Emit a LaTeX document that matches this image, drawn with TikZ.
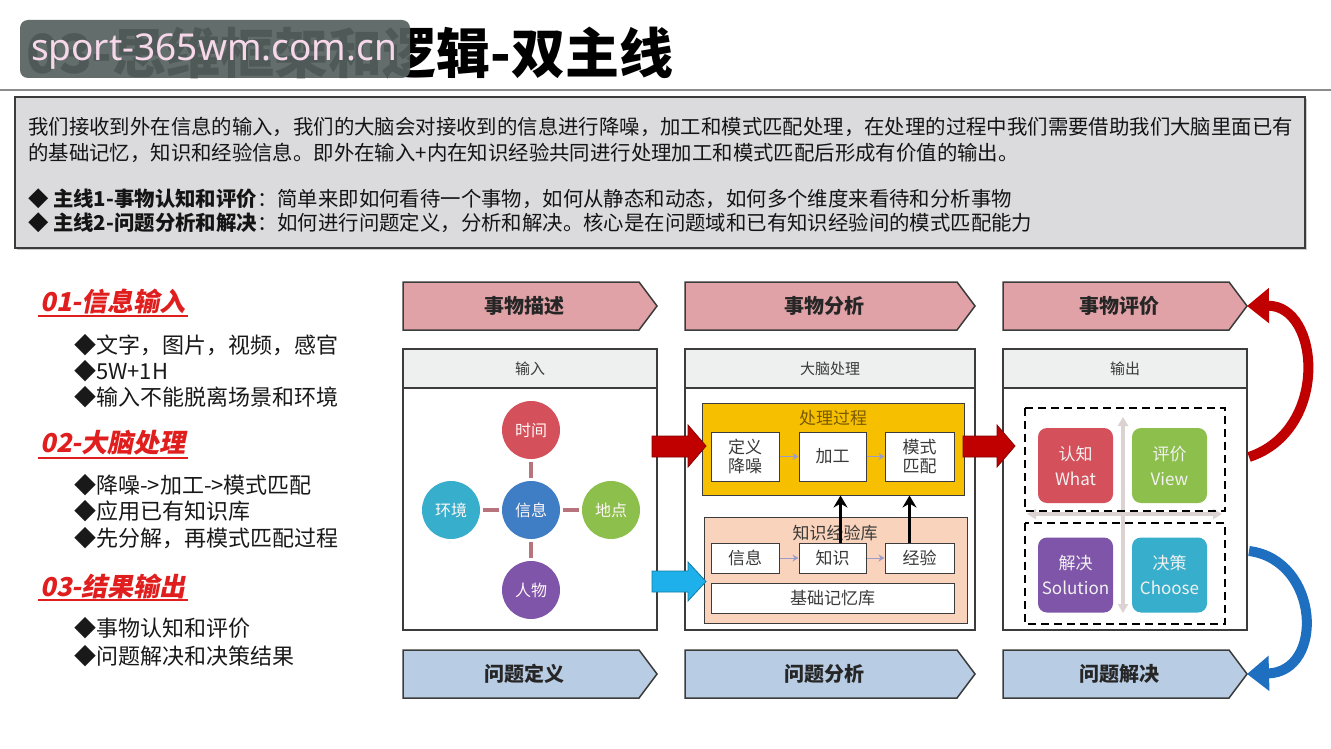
\documentclass[tikz,border=0pt]{standalone}
\usepackage{fontspec}
\setmainfont{Noto Sans CJK SC}
\newfontfamily\headfont{Noto Sans CJK SC}[FakeSlant=0.2]
\newfontfamily\wmfont{Noto Sans}
\usetikzlibrary{arrows.meta,shadows}
\definecolor{pinkc}{HTML}{E0A2A6}
\definecolor{bluec}{HTML}{B8CCE4}
\definecolor{edge}{HTML}{3C3C3C}
\definecolor{hdr}{HTML}{EEF0F0}
\definecolor{boxg}{HTML}{DBDBDD}
\definecolor{redh}{HTML}{E01E1E}
\definecolor{cRed}{HTML}{D4505A}
\definecolor{cBlue}{HTML}{3F7DC4}
\definecolor{cTeal}{HTML}{37AECB}
\definecolor{cGreen}{HTML}{8DBF4C}
\definecolor{cPurple}{HTML}{7E55A8}
\definecolor{linkc}{HTML}{B8747C}
\definecolor{gold}{HTML}{F6C000}
\definecolor{goldtx}{HTML}{7A5A00}
\definecolor{peach}{HTML}{F9D3BC}
\definecolor{darkred}{HTML}{C00000}
\definecolor{skyb}{HTML}{1EB0EA}
\definecolor{curvb}{HTML}{1F6FC0}
\definecolor{txt}{HTML}{3A3A3A}
\definecolor{wmbg}{HTML}{56615F}
\definecolor{wmtx}{HTML}{F6D8EA}
\definecolor{crossc}{HTML}{DCD2D2}
\newcommand{\fsz}[1]{\fontsize{#1}{#1}\selectfont}
\newcommand{\mychev}[7]{%
  \draw[draw=edge, line width=1.5pt, fill=#5] (#1,#3) -- (#2-18,#3) -- (#2,{(#3+#4)/2}) -- (#2-18,#4) -- (#1,#4) -- cycle;
  \coordinate (#6tip) at (#2,{(#3+#4)/2});
  \node[chevtext] (#6) at ({(#1+#2-12)/2},{(#3+#4)/2}) {#7};}
\begin{document}
\begin{tikzpicture}[x=1pt,y=-1pt,
  chevtext/.style={font=\fsz{20}\bfseries, text=black!85, inner sep=0pt},
  hdrtext/.style={font=\fsz{15}, text=txt, inner sep=0pt},
  panel/.style={draw=edge, line width=1.5pt, fill=white},
  hdrstrip/.style={draw=edge, line width=1.5pt, fill=hdr},
  circ/.style={circle, minimum size=58pt, inner sep=0pt, font=\fsz{16}, text=white!88!pink},
  linkline/.style={draw=linkc, line width=3.5pt, shorten <=3pt, shorten >=3pt},
  ibox/.style={draw=edge, line width=1pt, fill=white, font=\fsz{17}, text=txt, inner sep=0pt, align=center},
  garrow/.style={draw=gray!70!blue!60, line width=1pt, -{Stealth[length=6pt,width=7pt]}},
  blkarrow/.style={draw=black, line width=3pt, -{Stealth[length=12pt,width=14pt]}},
  sq/.style={rounded corners=9pt, minimum size=75pt, inner sep=0pt, align=center, font=\fsz{17}, text=white!90!gray},
  dashbox/.style={draw=black, line width=2.5pt, dash pattern=on 8pt off 5pt},
  crossarrow/.style={draw=crossc, line width=3.5pt, {Triangle[length=9pt,width=10pt]}-{Triangle[length=9pt,width=10pt]}},
  lefthead/.style={font=\headfont\fsz{26}\bfseries, text=redh, anchor=west, inner sep=0pt},
  leftitem/.style={font=\fsz{22}, text=black!90, anchor=west, inner sep=0pt},
  bodyline/.style={font=\fsz{20.4}, text=black!92, anchor=west, inner sep=0pt},
]
\useasboundingbox (0,0) rectangle (1331,749);
\fill[white] (0,0) rectangle (1331,749);

% title
\node[font=\fsz{54}\bfseries, anchor=west, inner sep=0pt] (title) at (26,53) {03-思维框架和逻辑-双主线};
\draw[gray!90, line width=2.5pt] (0,90) -- (1331,90);
\fill[wmbg, opacity=0.92, rounded corners=8pt] (20,20) rectangle (410,78);
\node[font=\wmfont\fsz{37}, text=wmtx, inner sep=0pt] (wm) at (214,52) {sport-365wm.com.cn};

% intro box
\draw[draw=edge, line width=1.5pt, fill=boxg, drop shadow={shadow xshift=2pt, shadow yshift=-2pt, opacity=0.4}] (15,97) rectangle (1305,248);
\node[bodyline] (l1) at (28,127) {我们接收到外在信息的输入，我们的大脑会对接收到的信息进行降噪，加工和模式匹配处理，在处理的过程中我们需要借助我们大脑里面已有};
\node[bodyline] (l2) at (28,153) {的基础记忆，知识和经验信息。即外在输入+内在知识经验共同进行处理加工和模式匹配后形成有价值的输出。};
\node[bodyline] (l3) at (28,199) {◆ {\bfseries 主线1-事物认知和评价}：简单来即如何看待一个事物，如何从静态和动态，如何多个维度来看待和分析事物};
\node[bodyline] (l4) at (28,223) {◆ {\bfseries 主线2-问题分析和解决}：如何进行问题定义，分析和解决。核心是在问题域和已有知识经验间的模式匹配能力};

% left column
\node[lefthead] (h1) at (40,302) {01-信息输入};
\draw[redh, line width=1.5pt] (38,316) -- (188,316);
\node[leftitem] (i11) at (74,345) {◆文字，图片，视频，感官};
\node[leftitem] (i12) at (74,371) {◆5W+1H};
\node[leftitem] (i13) at (74,397) {◆输入不能脱离场景和环境};
\node[lefthead] (h2) at (40,443) {02-大脑处理};
\draw[redh, line width=1.5pt] (38,458) -- (188,458);
\node[leftitem] (i21) at (74,485) {◆降噪->加工->模式匹配};
\node[leftitem] (i22) at (74,511) {◆应用已有知识库};
\node[leftitem] (i23) at (74,538) {◆先分解，再模式匹配过程};
\node[lefthead] (h3) at (40,586) {03-结果输出};
\draw[redh, line width=1.5pt] (38,600) -- (188,600);
\node[leftitem] (i31) at (74,628) {◆事物认知和评价};
\node[leftitem] (i32) at (74,656) {◆问题解决和决策结果};

% chevrons
\mychev{403}{657}{282}{330}{pinkc}{c1}{事物描述}
\mychev{685}{975}{282}{330}{pinkc}{c2}{事物分析}
\mychev{1003}{1247}{282}{330}{pinkc}{c3}{事物评价}
\mychev{403}{657}{650}{698}{bluec}{d1}{问题定义}
\mychev{685}{975}{650}{698}{bluec}{d2}{问题分析}
\mychev{1003}{1247}{650}{698}{bluec}{d3}{问题解决}

% panels
\draw[panel] (403,349) rectangle (657,630);
\draw[hdrstrip] (403,349) rectangle (657,388);
\node[hdrtext] (p1) at (530,368.5) {输入};
\draw[panel] (685,349) rectangle (975,630);
\draw[hdrstrip] (685,349) rectangle (975,388);
\node[hdrtext] (p2) at (830,368.5) {大脑处理};
\draw[panel] (1003,349) rectangle (1247,630);
\draw[hdrstrip] (1003,349) rectangle (1247,388);
\node[hdrtext] (p3) at (1125,368.5) {输出};

% circles
\node[circ, fill=cRed] (sj) at (531,430) {时间};
\node[circ, fill=cBlue] (xx) at (531,510) {信息};
\node[circ, fill=cTeal] (hj) at (451,510) {环境};
\node[circ, fill=cGreen] (dd) at (611,510) {地点};
\node[circ, fill=cPurple] (rw) at (531,590) {人物};
\draw[linkline] (sj) -- (xx);
\draw[linkline] (hj) -- (xx);
\draw[linkline] (dd) -- (xx);
\draw[linkline] (rw) -- (xx);

% processing box
\node[draw=edge, line width=1pt, fill=gold, minimum width=262pt, minimum height=92pt, inner sep=0pt] (clgc) at (833,449) {};
\node[font=\fsz{17}, text=goldtx, inner sep=0pt] (clgct) at (833,418) {处理过程};
\node[ibox, minimum width=68pt, minimum height=49pt] (dy) at (745,456.5) {定义\\[2pt]降噪};
\node[ibox, minimum width=67pt, minimum height=49pt] (jg) at (832.5,456.5) {加工};
\node[ibox, minimum width=69pt, minimum height=49pt] (ms) at (919.5,456.5) {模式\\[2pt]匹配};
\draw[garrow] (dy) -- (jg);
\draw[garrow] (jg) -- (ms);

\node[draw=edge, line width=1pt, fill=peach, minimum width=263pt, minimum height=106pt, inner sep=0pt] (zsk) at (835.5,570) {};
\node[font=\fsz{17}, text=txt, inner sep=0pt] (zskt) at (835,533) {知识经验库};
\node[ibox, minimum width=68pt, minimum height=30pt] (xi) at (745,558) {信息};
\node[ibox, minimum width=67pt, minimum height=30pt] (zs) at (832.5,558) {知识};
\node[ibox, minimum width=69pt, minimum height=30pt] (jy) at (919.5,558) {经验};
\node[ibox, minimum width=243pt, minimum height=30pt] (jc) at (832.5,598) {基础记忆库};
\draw[garrow] (xi) -- (zs);
\draw[garrow] (zs) -- (jy);
\coordinate (a1) at ([xshift=8pt]zs.north);
\coordinate (a2) at ([xshift=-10pt]jy.north);
\draw[blkarrow] (a1) -- (a1 |- clgc.south);
\draw[blkarrow] (a2) -- (a2 |- clgc.south);

% block arrows
\draw[draw=darkred!70!black, line width=0.8pt, fill=darkred] (652,436) -- (688,436) -- (688,425) -- (706,446) -- (688,467) -- (688,457) -- (652,457) -- cycle;
\draw[draw=darkred!70!black, line width=0.8pt, fill=darkred] (963,436) -- (997,436) -- (997,425) -- (1015,446) -- (997,467) -- (997,457) -- (963,457) -- cycle;
\draw[draw=skyb!70!black, line width=0.8pt, fill=skyb] (652,571) -- (688,571) -- (688,562) -- (706,581.5) -- (688,601) -- (688,592) -- (652,592) -- cycle;

% output
\draw[crossarrow] (1123,417) -- (1123,613);
\draw[crossarrow] (1027,514) -- (1222,514);
\draw[dashbox] (1025,408) rectangle (1225,511);
\draw[dashbox] (1025,523) rectangle (1225,624);
\node[sq, fill=cRed] (rz) at (1075.5,465.5) {认知\\[8pt]What};
\node[sq, fill=cGreen] (pj) at (1169.5,465.5) {评价\\[8pt]View};
\node[sq, fill=cPurple] (jj) at (1075.5,575) {解决\\[8pt]Solution};
\node[sq, fill=cTeal] (jcx) at (1169.5,575) {决策\\[8pt]Choose};

% curved arrows
\coordinate (rtail) at (1249,457);
\coordinate (btail) at (1249,551);
\draw[draw=darkred, line width=10pt, -{Triangle[length=22pt,width=34pt]}] (rtail) .. controls (1330,430) and (1320,305) .. (c3tip);
\draw[draw=curvb, line width=10pt, -{Triangle[length=22pt,width=34pt]}] (btail) .. controls (1320,560) and (1325,672) .. (d3tip);
\end{tikzpicture}
\end{document}
